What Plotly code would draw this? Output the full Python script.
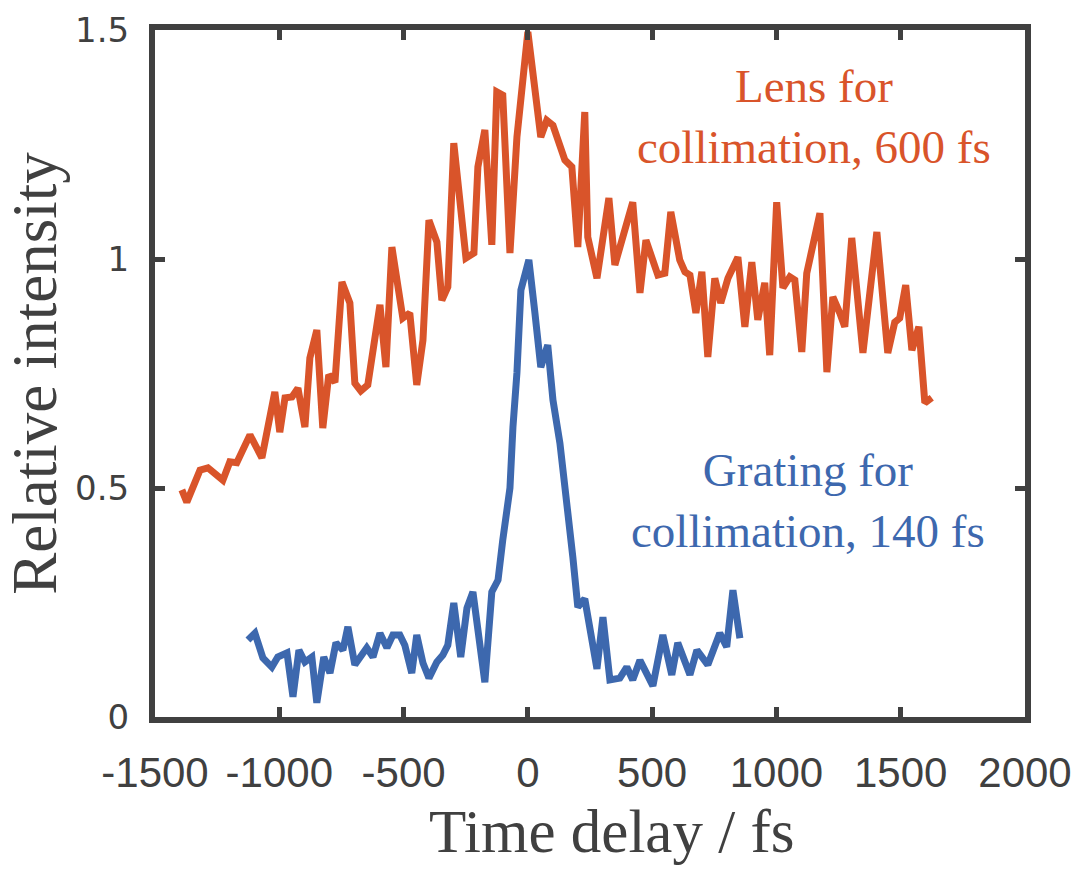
import plotly.graph_objects as go

# Orange: lens for collimation
lens_t = [-1392, -1372, -1319, -1287, -1227, -1199, -1171, -1118, -1070, -1018, -998, -977, -949, -925,
          -897, -877, -849, -825, -801, -776, -748, -716, -696, -672, -644, -595, -571, -547, -503, -475,
          -447, -422, -398, -366, -346, -322, -298, -249, -217, -201, -173, -145, -125, -101, -72, -44, 0,
          52, 76, 101, 149, 177, 201, 229, 241, 278, 326, 350, 422, 451, 475, 523, 551, 575, 611, 632, 652,
          676, 700, 724, 752, 776, 805, 845, 873, 901, 925, 953, 973, 1001, 1026, 1054, 1074, 1102, 1122,
          1175, 1203, 1227, 1255, 1275, 1303, 1348, 1404, 1448, 1476, 1496, 1520, 1545, 1573, 1597, 1625]
lens_i = [0.496, 0.469, 0.539, 0.544, 0.517, 0.557, 0.555, 0.616, 0.566, 0.710, 0.622, 0.697, 0.699, 0.718,
          0.633, 0.784, 0.845, 0.631, 0.747, 0.731, 0.950, 0.904, 0.729, 0.712, 0.725, 0.900, 0.764, 1.026,
          0.871, 0.882, 0.725, 0.823, 1.085, 1.037, 0.910, 0.939, 1.253, 1.002, 1.013, 1.201, 1.282, 1.031,
          1.365, 1.358, 1.013, 1.266, 1.496, 1.266, 1.303, 1.292, 1.216, 1.201, 1.026, 1.321, 1.048, 0.958,
          1.133, 0.987, 1.124, 0.926, 1.041, 0.965, 0.969, 1.103, 0.998, 0.972, 0.965, 0.882, 0.972, 0.786,
          0.958, 0.904, 0.958, 1.004, 0.852, 0.993, 0.867, 0.948, 0.790, 1.124, 0.937, 0.961, 0.954, 0.797,
          0.969, 1.100, 0.753, 0.917, 0.882, 0.852, 1.046, 0.795, 1.059, 0.795, 0.862, 0.871, 0.943, 0.801,
          0.852, 0.686, 0.697]

# Blue: grating for collimation
grat_t = [-1126, -1098, -1066, -1030, -1006, -969, -945, -921, -897, -869, -849, -821, -796, -772, -744,
          -724, -696, -648, -623, -595, -567, -543, -515, -495, -467, -447, -422, -398, -366, -342, -322,
          -298, -270, -245, -221, -173, -145, -120, -101, -72, -60, -44, -28, 4, 28, 52, 80, 101, 129, 157,
          181, 201, 229, 278, 302, 330, 370, 398, 422, 451, 503, 543, 579, 603, 652, 680, 724, 772, 800,
          825, 853]
grat_i = [0.168, 0.183, 0.129, 0.109, 0.131, 0.140, 0.044, 0.146, 0.120, 0.131, 0.031, 0.131, 0.096, 0.162,
          0.146, 0.197, 0.114, 0.151, 0.131, 0.183, 0.151, 0.179, 0.179, 0.157, 0.096, 0.179, 0.118, 0.085,
          0.120, 0.135, 0.157, 0.249, 0.131, 0.238, 0.273, 0.076, 0.273, 0.299, 0.386, 0.500, 0.633, 0.751,
          0.932, 0.998, 0.884, 0.764, 0.812, 0.692, 0.598, 0.474, 0.349, 0.240, 0.258, 0.105, 0.218, 0.081,
          0.085, 0.109, 0.081, 0.124, 0.068, 0.179, 0.092, 0.162, 0.092, 0.146, 0.114, 0.183, 0.153, 0.277,
          0.172]

x_ticks = [-1500, -1000, -500, 0, 500, 1000, 1500, 2000]
x_labels = ["-1500", "-1000", "-500", "0", "500", "1000", "1500", "2000"]
y_ticks = [0, 0.5, 1, 1.5]
y_labels = ["0", "0.5", "1", "1.5"]

ORANGE = "#D9542A"
BLUE = "#3D68AE"
FRAME = "#404040"
SERIF = "Liberation Serif, Times New Roman, serif"

fig = go.Figure()
fig.add_trace(go.Scatter(x=lens_t, y=lens_i, mode="lines",
                         line=dict(color=ORANGE, width=7), showlegend=False))
fig.add_trace(go.Scatter(x=grat_t, y=grat_i, mode="lines",
                         line=dict(color=BLUE, width=7), showlegend=False))

fig.add_annotation(x=1150, y=1.311, xref="x", yref="y", showarrow=False,
                   text="Lens for<br>collimation, 600 fs",
                   font=dict(family=SERIF, size=47, color=ORANGE), align="center")
fig.add_annotation(x=1125, y=0.472, xref="x", yref="y", showarrow=False,
                   text="Grating for<br>collimation, 140 fs",
                   font=dict(family=SERIF, size=47, color=BLUE), align="center")
# x-axis title
fig.add_annotation(x=0.525, y=-0.167, xref="paper", yref="paper", showarrow=False,
                   xanchor="center", yanchor="middle", text="Time delay / fs",
                   font=dict(family=SERIF, size=61, color=FRAME))

fig.update_layout(
    width=1089, height=871,
    margin=dict(l=155, r=64, t=30, b=154),
    paper_bgcolor="white", plot_bgcolor="white",
    xaxis=dict(range=[-1500, 2000], tickvals=x_ticks, ticktext=x_labels, tickangle=0,
               ticks="inside", ticklen=10, tickwidth=5, automargin=False,
               tickcolor=FRAME, showline=True, linewidth=6, linecolor=FRAME, mirror="ticks",
               showgrid=False, zeroline=False, ticklabelstandoff=14,
               tickfont=dict(family="Liberation Sans, Arial", size=42, color=FRAME)),
    yaxis=dict(range=[0, 1.5], tickvals=y_ticks, ticktext=y_labels, ticks="inside", ticklen=10,
               tickwidth=5, tickcolor=FRAME, showline=True, linewidth=6, linecolor=FRAME,
               automargin=False,
               mirror="ticks", showgrid=False, zeroline=False, ticklabelstandoff=13,
               tickfont=dict(family="DejaVu Sans", size=34, color=FRAME),
               title=dict(text="Relative intensity", standoff=10,
                          font=dict(family=SERIF, size=63, color=FRAME))),
)

fig.write_html("out.html")
